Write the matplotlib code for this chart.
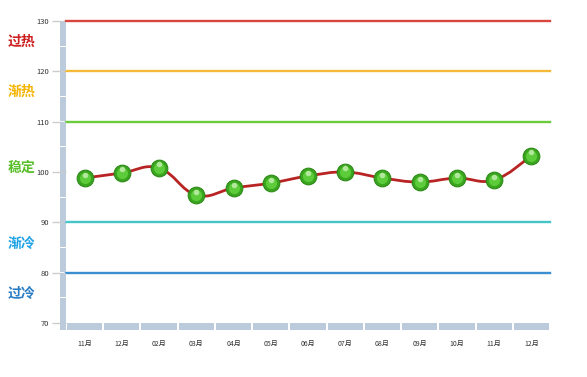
import numpy as np
import matplotlib
matplotlib.use("Agg")
import matplotlib.pyplot as plt
from matplotlib.patches import Rectangle, PathPatch
from matplotlib.path import Path

plt.rcParams['font.family'] = ['Noto Sans CJK SC', 'DejaVu Sans']

# 数据
months = ['11月', '12月', '02月', '03月', '04月', '05月', '06月', '07月', '08月', '09月', '10月', '11月', '12月']
values = [98.8, 99.8, 100.8, 95.4, 96.8, 97.8, 99.2, 100.0, 98.8, 98.0, 98.8, 98.4, 103.2]

levels = [130, 120, 110, 90, 80]
level_colors = ['#d9463e', '#f5b93a', '#6acb3c', '#45c5c8', '#3b8fd0']
zone_names = ['过热', '渐热', '稳定', '渐冷', '过冷']
zone_y = [125.8, 116.0, 100.8, 85.8, 75.8]
zone_colors = ['#cc1f1f', '#f5b400', '#5cc02c', '#1fa3e6', '#2a7cc4']
yticks = [70, 80, 90, 100, 110, 120, 130]

fig = plt.figure(figsize=(5.87, 3.77), dpi=100)
ax = fig.add_axes([66 / 587, 54 / 377, 484 / 587, 302 / 377])
n = len(months)
x = np.arange(n)
ax.set_xlim(-0.5, n - 0.5)
ax.set_ylim(70, 130)
for s in ax.spines.values():
    s.set_visible(False)

# 分区线
for lv, c in zip(levels, level_colors):
    ax.axhline(lv, color=c, lw=1.7, zorder=2, clip_on=False)

# 左侧柱和底部条
px_x = n / 484.0
px_y = 60 / 302.0
bar_c = '#bccbdb'
pw = 6 * px_x
for y0 in np.arange(70, 130, 5):
    ax.add_patch(Rectangle((-0.5 - pw, y0 + 0.5 * px_y), pw, 5 - px_y, color=bar_c,
                           clip_on=False, zorder=4, lw=0))
ax.add_patch(Rectangle((-0.5 - pw, 70 - 7 * px_y), pw, 7 * px_y, color=bar_c,
                       clip_on=False, zorder=4, lw=0))
for i in range(n):
    ax.add_patch(Rectangle((i - 0.5 + px_x, 70 - 7 * px_y), 1 - 2 * px_x, 7 * px_y,
                           color=bar_c, clip_on=False, zorder=4, lw=0))

# 平滑曲线
verts = [(x[0], values[0])]
codes = [Path.MOVETO]
t = 0.2
for i in range(n - 1):
    p0 = np.array([x[max(i - 1, 0)], values[max(i - 1, 0)]])
    p1 = np.array([x[i], values[i]])
    p2 = np.array([x[i + 1], values[i + 1]])
    p3 = np.array([x[min(i + 2, n - 1)], values[min(i + 2, n - 1)]])
    c1 = p1 + (p2 - p0) * t
    c2 = p2 - (p3 - p1) * t
    verts += [tuple(c1), tuple(c2), tuple(p2)]
    codes += [Path.CURVE4] * 3
ax.add_patch(PathPatch(Path(verts, codes), fill=False, edgecolor='#b82323', lw=2, zorder=5))

# 绿色圆点
ax.plot(x, values, 'o', ms=12, mfc='#3aa51e', mec='#2d8a18', mew=0.8, zorder=6)
ax.plot(x, values, 'o', ms=8, mfc='#5ccc3a', mec='none', zorder=7)
ax.plot(x, np.array(values) + 0.7, 'o', ms=4, mfc='#c8f0b4', mec='none', alpha=0.8, zorder=8)

# 刻度
ax.set_yticks(yticks)
ax.set_yticklabels([str(v) for v in yticks], fontsize=5.5, color='#333333')
ax.tick_params(axis='y', length=10, width=1, color='#cccccc', pad=2)
ax.set_xticks(x)
ax.set_xticklabels(months, fontsize=5, color='#333333')
ax.tick_params(axis='x', length=0, pad=12)

# 左侧分区文字
for name, yy, c in zip(zone_names, zone_y, zone_colors):
    ax.text(-0.5 - 58 * px_x, yy, name, color=c, fontsize=10, fontweight='bold',
            ha='left', va='center', clip_on=False)

fig.savefig('out.png', dpi=100)
